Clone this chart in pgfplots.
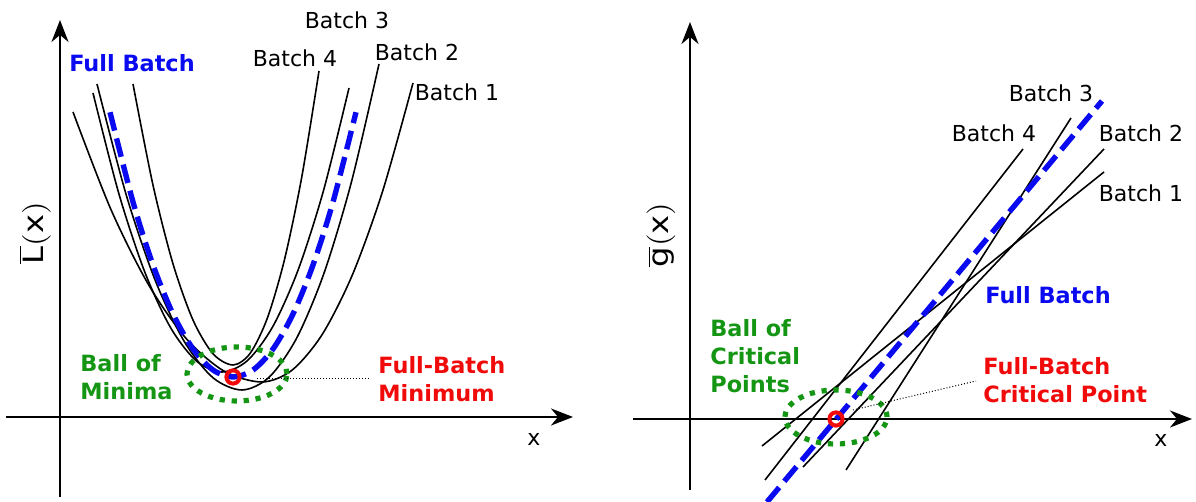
\documentclass[border=0pt]{standalone}
\usepackage{pgfplots}
\pgfplotsset{compat=1.18}
\usepackage{fontspec}
\setmainfont{DejaVu Sans}
\usetikzlibrary{arrows.meta}

\definecolor{ballgreen}{RGB}{20,150,20}
\definecolor{fullblue}{RGB}{10,10,240}
\definecolor{critred}{RGB}{240,10,10}

\pgfplotsset{
  sketch/.style={
    scale only axis, clip=false, enlargelimits=false,
    axis lines=middle, ticks=none,
    axis line style={line width=1.2pt, -{Stealth[length=11pt,width=8.5pt,inset=3.5pt]}},
  },
  batch/.style={black, line width=0.8pt, smooth, no markers},
  full/.style={fullblue, line width=2.7pt, dash pattern=on 9.5pt off 4pt, no markers},
  crit/.style={only marks, mark=o, mark size=3.3pt, mark options={draw=critred, line width=2pt}},
}
\tikzset{
  ball/.style={ballgreen, line width=2.6pt, dash pattern=on 2.6pt off 3.4pt},
  lbl/.style={font=\fontsize{11}{13.5}\selectfont, inner sep=0pt},
  bold/.style={font=\fontsize{11.2}{14}\selectfont\bfseries, align=left, inner sep=0pt},
}

\begin{document}
\begin{tikzpicture}
\useasboundingbox (0,0) rectangle (598pt,251pt);

% ---------------- loss landscape ----------------
\begin{axis}[sketch, at={(3pt,2.5pt)}, anchor=south west,
  width=283.5pt, height=238.5pt,
  xmin=-54, xmax=513, ymin=-80, ymax=397]

% Batch 1
\addplot[batch] coordinates {(13,305) (50.8,207.8) (88.6,132.2) (126.4,78.2) (164.2,45.8) (202,35)
  (232.2,46.96) (262.4,82.84) (292.6,142.64) (322.8,226.36) (353,334)};
% Batch 2
\addplot[batch] coordinates {(37,333) (66,222.84) (95,137.16) (124,75.96) (153,39.24) (182,27)
  (209.4,40.04) (236.8,79.16) (264.2,144.36) (291.6,235.64) (319,353)};
% Batch 3
\addplot[batch] coordinates {(33,324) (58.8,223.56) (84.6,145.44) (110.4,89.64) (136.2,56.16) (162,45)
  (187.4,56.36) (212.8,90.44) (238.2,147.24) (263.6,226.76) (289,329)};
% Batch 4
\addplot[batch] coordinates {(73,333) (93,231.84) (113,153.16) (133,96.96) (153,63.24) (173,52)
  (190.2,63.76) (207.4,99.04) (224.6,157.84) (241.8,240.16) (259,346)};
% Full batch
\addplot[full, smooth] coordinates {(50,304.8) (73,215) (93,152) (113,103) (133,68) (153,47) (173,40)
  (193,47) (213,68) (233,103) (253,152) (273,215) (296,304.8)};

\draw[ball] (axis cs:177,43) ellipse [x radius=50, y radius=27];
\draw[black, line width=0.5pt, densely dotted] (axis cs:197,38) -- (axis cs:311,38);
\addplot[crit] coordinates {(173,40)};

\node[lbl] at (axis cs:287,397) {Batch 3};
\node[lbl] at (axis cs:235,359) {Batch 4};
\node[lbl] at (axis cs:357,365) {Batch 2};
\node[lbl] at (axis cs:397,325) {Batch 1};
\node[bold, text=fullblue] at (axis cs:72,354) {Full Batch};
\node[bold, text=ballgreen, anchor=west] at (axis cs:20,39.5) {Ball of\\Minima};
\node[bold, text=critred, anchor=west] at (axis cs:318,37.5) {Full-Batch\\Minimum};
\node[lbl] at (axis cs:474,-22) {x};
\node[rotate=90] at (axis cs:-25,184)
  {\scalebox{1.15}[1]{\fontsize{14}{16}\selectfont$\overline{\mathrm{L}}(\mathrm{x})$}};
\end{axis}

% ---------------- gradient ----------------
\begin{axis}[sketch, at={(316.5pt,6pt)}, anchor=south west,
  width=279.5pt, height=234pt,
  xmin=-57, xmax=502, ymin=-71, ymax=397]

\addplot[batch, sharp plot] coordinates {(72,-27) (414,247)};   % Batch 1
\addplot[batch, sharp plot] coordinates {(113,-48) (414,270)};  % Batch 2
\addplot[batch, sharp plot] coordinates {(156,-51) (381,301)};  % Batch 3
\addplot[batch, sharp plot] coordinates {(75,-61) (333,270)};   % Batch 4
\addplot[full] coordinates {(77,-83) (412,318)};                % Full batch

\draw[ball] (axis cs:146,2) ellipse [x radius=51, y radius=27];
\draw[black, line width=0.5pt, densely dotted] (axis cs:163,9) -- (axis cs:286,38);
\addplot[crit] coordinates {(146,0)};

\node[lbl] at (axis cs:361,326) {Batch 3};
\node[lbl] at (axis cs:304,286) {Batch 4};
\node[lbl] at (axis cs:451,286) {Batch 2};
\node[lbl] at (axis cs:451,226) {Batch 1};
\node[bold, text=fullblue] at (axis cs:358,124) {Full Batch};
\node[bold, text=ballgreen, anchor=west] at (axis cs:20,63) {Ball of\\Critical\\Points};
\node[bold, text=critred, anchor=west] at (axis cs:293,39) {Full-Batch\\Critical Point};
\node[lbl] at (axis cs:471,-21) {x};
\node[rotate=90] at (axis cs:-29,184)
  {\scalebox{1.15}[1]{\fontsize{14}{16}\selectfont$\overline{\mathrm{g}}(\mathrm{x})$}};
\end{axis}
\end{tikzpicture}
\end{document}
